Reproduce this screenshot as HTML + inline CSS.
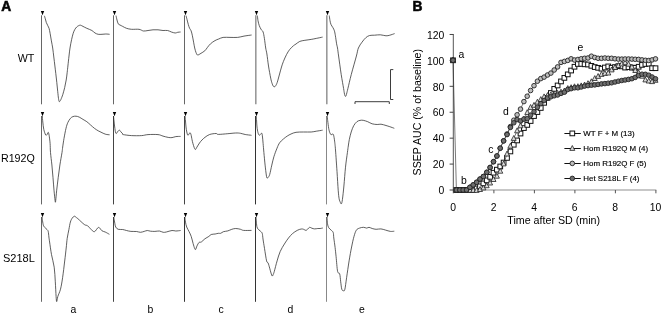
<!DOCTYPE html>
<html><head><meta charset="utf-8"><title>Figure</title>
<style>
html,body{margin:0;padding:0;background:#fff;}
svg{display:block;}
text{font-family:"Liberation Sans",Arial,Helvetica,sans-serif;fill:#000;}
.t{font-size:10.4px;}
.t2{font-size:10.7px;}
.l{font-size:7.95px;stroke:#000;stroke-width:0.15px;}
.b{font-size:13.8px;font-weight:bold;stroke:#111;stroke-width:0.6px;}
</style></head><body>
<svg width="664" height="316" viewBox="0 0 664 316">
<rect width="664" height="316" fill="#fff"/>
<text x="1.3" y="11" class="b">A</text>
<text x="412.6" y="11" class="b">B</text>
<text x="34.4" y="61.8" text-anchor="end" class="t2">WT</text>
<text x="34.8" y="161.9" text-anchor="end" class="t2">R192Q</text>
<text x="34.8" y="262" text-anchor="end" class="t2" style="font-size:11px">S218L</text>
<text x="73.3" y="312.5" text-anchor="middle" class="t">a</text>
<text x="150.5" y="312.5" text-anchor="middle" class="t">b</text>
<text x="221" y="312.5" text-anchor="middle" class="t">c</text>
<text x="290.3" y="312.5" text-anchor="middle" class="t">d</text>
<text x="362" y="312.5" text-anchor="middle" class="t">e</text>
<line x1="41.5" y1="15.3" x2="41.5" y2="104.3" stroke="#666" stroke-width="1"/>
<path d="M40.8,11 L44.2,11 L42.5,15.2 Z" fill="#000"/>
<line x1="113.5" y1="15.3" x2="113.5" y2="104.3" stroke="#666" stroke-width="1"/>
<path d="M112.8,11 L116.2,11 L114.5,15.2 Z" fill="#000"/>
<line x1="184.5" y1="15.3" x2="184.5" y2="104.3" stroke="#666" stroke-width="1"/>
<path d="M183.8,11 L187.2,11 L185.5,15.2 Z" fill="#000"/>
<line x1="255.8" y1="15.3" x2="255.8" y2="104.3" stroke="#999" stroke-width="1.6"/>
<path d="M254.8,11 L258.2,11 L256.5,15.2 Z" fill="#000"/>
<line x1="326.8" y1="15.3" x2="326.8" y2="104.3" stroke="#999" stroke-width="1.6"/>
<path d="M325.8,11 L329.2,11 L327.5,15.2 Z" fill="#000"/>
<line x1="41.5" y1="116" x2="41.5" y2="204.4" stroke="#666" stroke-width="1"/>
<path d="M40.8,112 L44.2,112 L42.5,116.2 Z" fill="#000"/>
<line x1="113.5" y1="116" x2="113.5" y2="204.4" stroke="#444" stroke-width="1"/>
<path d="M112.8,112 L116.2,112 L114.5,116.2 Z" fill="#000"/>
<line x1="184.5" y1="116" x2="184.5" y2="204.4" stroke="#444" stroke-width="1"/>
<path d="M183.8,112 L187.2,112 L185.5,116.2 Z" fill="#000"/>
<line x1="255.5" y1="116" x2="255.5" y2="204.4" stroke="#333" stroke-width="1"/>
<path d="M254.8,112 L258.2,112 L256.5,116.2 Z" fill="#000"/>
<line x1="326.5" y1="116" x2="326.5" y2="204.4" stroke="#888" stroke-width="1"/>
<path d="M325.8,112 L329.2,112 L327.5,116.2 Z" fill="#000"/>
<line x1="41.5" y1="217" x2="41.5" y2="301.8" stroke="#666" stroke-width="1"/>
<path d="M40.8,213 L44.2,213 L42.5,217.2 Z" fill="#000"/>
<line x1="113.5" y1="217" x2="113.5" y2="301.8" stroke="#444" stroke-width="1"/>
<path d="M112.8,213 L116.2,213 L114.5,217.2 Z" fill="#000"/>
<line x1="184.5" y1="217" x2="184.5" y2="301.8" stroke="#333" stroke-width="1"/>
<path d="M183.8,213 L187.2,213 L185.5,217.2 Z" fill="#000"/>
<line x1="255.5" y1="217" x2="255.5" y2="301.8" stroke="#333" stroke-width="1"/>
<path d="M254.8,213 L258.2,213 L256.5,217.2 Z" fill="#000"/>
<line x1="326.5" y1="217" x2="326.5" y2="301.8" stroke="#888" stroke-width="1"/>
<path d="M325.8,213 L329.2,213 L327.5,217.2 Z" fill="#000"/>
<path d="M44.40,15.80 C44.55,16.30 44.98,17.68 45.30,18.80 C45.62,19.92 45.88,21.35 46.30,22.50 C46.72,23.65 47.33,24.70 47.80,25.70 C48.27,26.70 48.72,27.23 49.10,28.50 C49.48,29.77 49.72,31.23 50.10,33.30 C50.48,35.37 50.97,38.45 51.40,40.90 C51.83,43.35 52.30,45.32 52.70,48.00 C53.10,50.68 53.43,54.00 53.80,57.00 C54.17,60.00 54.57,63.23 54.90,66.00 C55.23,68.77 55.48,70.85 55.80,73.60 C56.12,76.35 56.48,79.55 56.80,82.50 C57.12,85.45 57.42,88.63 57.70,91.30 C57.98,93.97 58.25,96.78 58.50,98.50 C58.75,100.22 58.95,101.18 59.20,101.60 C59.45,102.02 59.72,101.35 60.00,101.00 C60.28,100.65 60.43,100.58 60.90,99.50 C61.37,98.42 62.17,96.50 62.80,94.50 C63.43,92.50 64.13,89.92 64.70,87.50 C65.27,85.08 65.78,82.53 66.20,80.00 C66.62,77.47 66.92,74.63 67.20,72.30 C67.48,69.97 67.60,68.72 67.90,66.00 C68.20,63.28 68.65,59.00 69.00,56.00 C69.35,53.00 69.57,50.73 70.00,48.00 C70.43,45.27 71.07,42.05 71.60,39.60 C72.13,37.15 72.67,34.98 73.20,33.30 C73.73,31.62 74.22,30.55 74.80,29.50 C75.38,28.45 76.07,27.63 76.70,27.00 C77.33,26.37 77.97,26.00 78.60,25.70 C79.23,25.40 79.77,25.08 80.50,25.20 C81.23,25.32 81.95,25.88 83.00,26.40 C84.05,26.92 85.32,27.62 86.80,28.30 C88.28,28.98 90.53,29.72 91.90,30.50 C93.27,31.28 93.95,32.37 95.00,33.00 C96.05,33.63 97.03,34.08 98.20,34.30 C99.37,34.52 100.73,34.35 102.00,34.30 C103.27,34.25 104.53,34.00 105.80,34.00 C107.07,34.00 108.97,34.25 109.60,34.30" fill="none" stroke="#2a2a2a" stroke-width="0.75" stroke-linejoin="round"/>
<path d="M116.00,15.60 C116.17,16.33 116.63,18.63 117.00,20.00 C117.37,21.37 117.70,22.97 118.20,23.80 C118.70,24.63 119.25,24.57 120.00,25.00 C120.75,25.43 121.62,25.85 122.70,26.40 C123.78,26.95 125.03,27.82 126.50,28.30 C127.97,28.78 129.42,29.13 131.50,29.30 C133.58,29.47 137.00,29.02 139.00,29.30 C141.00,29.58 142.00,30.80 143.50,31.00 C145.00,31.20 146.42,30.70 148.00,30.50 C149.58,30.30 151.33,29.92 153.00,29.80 C154.67,29.68 156.33,29.68 158.00,29.80 C159.67,29.92 161.40,30.38 163.00,30.50 C164.60,30.62 166.20,30.25 167.60,30.50 C169.00,30.75 170.13,31.58 171.40,32.00 C172.67,32.42 174.15,32.95 175.20,33.00 C176.25,33.05 176.80,32.47 177.70,32.30 C178.60,32.13 180.12,32.05 180.60,32.00" fill="none" stroke="#2a2a2a" stroke-width="0.75" stroke-linejoin="round"/>
<path d="M186.00,15.60 C186.17,16.23 186.62,17.92 187.00,19.40 C187.38,20.88 187.87,23.02 188.30,24.50 C188.73,25.98 189.13,27.25 189.60,28.30 C190.07,29.35 190.63,29.55 191.10,30.80 C191.57,32.05 191.98,33.90 192.40,35.80 C192.82,37.70 193.22,40.17 193.60,42.20 C193.98,44.23 194.30,46.28 194.70,48.00 C195.10,49.72 195.55,51.33 196.00,52.50 C196.45,53.67 196.90,54.67 197.40,55.00 C197.90,55.33 198.40,54.78 199.00,54.50 C199.60,54.22 200.03,53.92 201.00,53.30 C201.97,52.68 203.75,51.75 204.80,50.80 C205.85,49.85 206.35,48.77 207.30,47.60 C208.25,46.43 209.22,44.97 210.50,43.80 C211.78,42.63 213.63,41.40 215.00,40.60 C216.37,39.80 217.35,39.53 218.70,39.00 C220.05,38.47 221.22,37.67 223.10,37.40 C224.98,37.13 227.57,37.40 230.00,37.40 C232.43,37.40 235.37,37.62 237.70,37.40 C240.03,37.18 241.68,36.50 244.00,36.10 C246.32,35.70 250.33,35.18 251.60,35.00" fill="none" stroke="#2a2a2a" stroke-width="0.75" stroke-linejoin="round"/>
<path d="M257.40,15.60 C257.50,16.45 257.68,19.02 258.00,20.70 C258.32,22.38 258.77,24.23 259.30,25.70 C259.83,27.17 260.57,28.45 261.20,29.50 C261.83,30.55 262.57,30.52 263.10,32.00 C263.63,33.48 263.97,35.73 264.40,38.40 C264.83,41.07 265.28,45.40 265.70,48.00 C266.12,50.60 266.43,51.00 266.90,54.00 C267.37,57.00 267.87,61.98 268.50,66.00 C269.13,70.02 270.12,75.23 270.70,78.10 C271.28,80.97 271.58,81.88 272.00,83.20 C272.42,84.52 272.82,85.40 273.20,86.00 C273.58,86.60 273.92,86.80 274.30,86.80 C274.68,86.80 275.02,86.72 275.50,86.00 C275.98,85.28 276.57,84.33 277.20,82.50 C277.83,80.67 278.58,77.58 279.30,75.00 C280.02,72.42 280.82,69.25 281.50,67.00 C282.18,64.75 282.57,63.57 283.40,61.50 C284.23,59.43 285.45,56.60 286.50,54.60 C287.55,52.60 288.53,50.98 289.70,49.50 C290.87,48.02 292.45,46.62 293.50,45.70 C294.55,44.78 294.95,44.72 296.00,44.00 C297.05,43.28 298.32,42.02 299.80,41.40 C301.28,40.78 303.00,40.63 304.90,40.30 C306.80,39.97 309.30,39.72 311.20,39.40 C313.10,39.08 314.40,38.78 316.30,38.40 C318.20,38.02 321.55,37.32 322.60,37.10" fill="none" stroke="#2a2a2a" stroke-width="0.75" stroke-linejoin="round"/>
<path d="M329.30,15.60 C329.42,16.45 329.72,19.22 330.00,20.70 C330.28,22.18 330.52,23.35 331.00,24.50 C331.48,25.65 332.33,26.55 332.90,27.60 C333.47,28.65 333.98,29.43 334.40,30.80 C334.82,32.17 335.03,33.63 335.40,35.80 C335.77,37.97 336.25,41.77 336.60,43.80 C336.95,45.83 337.17,45.97 337.50,48.00 C337.83,50.03 337.98,51.60 338.60,56.00 C339.22,60.40 340.37,68.98 341.20,74.40 C342.03,79.82 343.08,85.40 343.60,88.50 C344.12,91.60 344.08,91.82 344.30,93.00 C344.52,94.18 344.70,95.03 344.90,95.60 C345.10,96.17 345.30,96.40 345.50,96.40 C345.70,96.40 345.88,96.17 346.10,95.60 C346.32,95.03 346.50,94.18 346.80,93.00 C347.10,91.82 347.15,91.60 347.90,88.50 C348.65,85.40 349.88,79.82 351.30,74.40 C352.72,68.98 355.22,60.40 356.40,56.00 C357.58,51.60 357.47,50.30 358.40,48.00 C359.33,45.70 360.77,43.92 362.00,42.20 C363.23,40.48 364.53,38.82 365.80,37.70 C367.07,36.58 368.13,35.92 369.60,35.50 C371.07,35.08 372.82,35.32 374.60,35.20 C376.38,35.08 378.40,34.70 380.30,34.80 C382.20,34.90 384.42,35.73 386.00,35.80 C387.58,35.87 388.37,35.57 389.80,35.20 C391.23,34.83 393.80,33.87 394.60,33.60" fill="none" stroke="#2a2a2a" stroke-width="0.75" stroke-linejoin="round"/>
<path d="M42.30,116.00 C42.38,117.00 42.55,119.75 42.80,122.00 C43.05,124.25 43.32,127.33 43.80,129.50 C44.28,131.67 45.17,134.15 45.70,135.00 C46.23,135.85 46.58,135.05 47.00,134.60 C47.42,134.15 47.85,132.20 48.20,132.30 C48.55,132.40 48.78,133.35 49.10,135.20 C49.42,137.05 49.87,140.52 50.10,143.40 C50.33,146.28 50.20,148.90 50.50,152.50 C50.80,156.10 51.48,160.80 51.90,165.00 C52.32,169.20 52.65,173.50 53.00,177.70 C53.35,181.90 53.65,186.37 54.00,190.20 C54.35,194.03 54.87,198.72 55.10,200.70 C55.33,202.68 55.30,202.10 55.40,202.10 C55.50,202.10 55.48,202.68 55.70,200.70 C55.92,198.72 56.28,194.03 56.70,190.20 C57.12,186.37 57.67,181.90 58.20,177.70 C58.73,173.50 59.27,169.20 59.90,165.00 C60.53,160.80 61.53,155.50 62.00,152.50 C62.47,149.50 62.37,149.35 62.70,147.00 C63.03,144.65 63.45,141.52 64.00,138.40 C64.55,135.28 65.37,130.93 66.00,128.30 C66.63,125.67 67.07,124.25 67.80,122.60 C68.53,120.95 69.55,119.40 70.40,118.40 C71.25,117.40 71.97,116.97 72.90,116.60 C73.83,116.23 74.95,116.12 76.00,116.20 C77.05,116.28 78.03,116.57 79.20,117.10 C80.37,117.63 81.73,118.63 83.00,119.40 C84.27,120.17 85.53,120.77 86.80,121.70 C88.07,122.63 89.33,123.90 90.60,125.00 C91.87,126.10 93.13,127.33 94.40,128.30 C95.67,129.27 96.93,130.07 98.20,130.80 C99.47,131.53 100.73,132.12 102.00,132.70 C103.27,133.28 104.53,133.95 105.80,134.30 C107.07,134.65 108.97,134.72 109.60,134.80" fill="none" stroke="#2a2a2a" stroke-width="0.75" stroke-linejoin="round"/>
<path d="M113.50,116.00 C113.58,116.83 113.80,119.17 114.00,121.00 C114.20,122.83 114.43,125.05 114.70,127.00 C114.97,128.95 115.28,131.65 115.60,132.70 C115.92,133.75 116.23,133.52 116.60,133.30 C116.97,133.08 117.32,131.92 117.80,131.40 C118.28,130.88 118.97,130.10 119.50,130.20 C120.03,130.30 120.43,131.37 121.00,132.00 C121.57,132.63 122.52,133.57 122.90,134.00 C123.28,134.43 121.87,134.33 123.30,134.60 C124.73,134.87 128.45,135.43 131.50,135.60 C134.55,135.77 138.85,135.77 141.60,135.60 C144.35,135.43 145.27,134.77 148.00,134.60 C150.73,134.43 155.50,134.35 158.00,134.60 C160.50,134.85 161.30,135.63 163.00,136.10 C164.70,136.57 166.70,137.15 168.20,137.40 C169.70,137.65 170.73,137.73 172.00,137.60 C173.27,137.47 174.37,136.80 175.80,136.60 C177.23,136.40 179.80,136.43 180.60,136.40" fill="none" stroke="#2a2a2a" stroke-width="0.75" stroke-linejoin="round"/>
<path d="M185.00,116.00 C185.08,116.83 185.33,119.17 185.50,121.00 C185.67,122.83 185.78,125.17 186.00,127.00 C186.22,128.83 186.50,130.63 186.80,132.00 C187.10,133.37 187.42,134.87 187.80,135.20 C188.18,135.53 188.73,134.42 189.10,134.00 C189.47,133.58 189.68,132.60 190.00,132.70 C190.32,132.80 190.67,133.45 191.00,134.60 C191.33,135.75 191.68,138.13 192.00,139.60 C192.32,141.07 192.53,142.08 192.90,143.40 C193.27,144.72 193.78,146.48 194.20,147.50 C194.62,148.52 194.93,149.58 195.40,149.50 C195.87,149.42 196.32,148.08 197.00,147.00 C197.68,145.92 198.67,144.17 199.50,143.00 C200.33,141.83 201.08,140.95 202.00,140.00 C202.92,139.05 203.73,138.22 205.00,137.30 C206.27,136.38 207.77,135.13 209.60,134.50 C211.43,133.87 214.55,133.52 216.00,133.50 C217.45,133.48 216.33,134.37 218.30,134.40 C220.27,134.43 224.90,133.93 227.80,133.70 C230.70,133.47 233.58,133.07 235.70,133.00 C237.82,132.93 238.92,133.05 240.50,133.30 C242.08,133.55 243.37,134.17 245.20,134.50 C247.03,134.83 250.45,135.17 251.50,135.30" fill="none" stroke="#2a2a2a" stroke-width="0.75" stroke-linejoin="round"/>
<path d="M256.20,116.00 C256.27,116.83 256.47,119.17 256.60,121.00 C256.73,122.83 256.77,125.05 257.00,127.00 C257.23,128.95 257.62,131.33 258.00,132.70 C258.38,134.07 258.83,134.98 259.30,135.20 C259.77,135.42 260.37,134.32 260.80,134.00 C261.23,133.68 261.62,132.80 261.90,133.30 C262.18,133.80 262.30,135.32 262.50,137.00 C262.70,138.68 262.87,140.80 263.10,143.40 C263.33,146.00 263.57,148.98 263.90,152.60 C264.23,156.22 264.70,161.37 265.10,165.10 C265.50,168.83 265.98,172.83 266.30,175.00 C266.62,177.17 266.68,177.73 267.00,178.10 C267.32,178.47 267.75,177.80 268.20,177.20 C268.65,176.60 269.10,176.52 269.70,174.50 C270.30,172.48 271.10,168.07 271.80,165.10 C272.50,162.13 273.03,159.52 273.90,156.70 C274.77,153.88 276.05,150.52 277.00,148.20 C277.95,145.88 278.53,144.33 279.60,142.80 C280.67,141.27 282.13,140.12 283.40,139.00 C284.67,137.88 285.93,136.93 287.20,136.10 C288.47,135.27 289.53,134.63 291.00,134.00 C292.47,133.37 293.90,132.63 296.00,132.30 C298.10,131.97 301.07,132.05 303.60,132.00 C306.13,131.95 309.08,132.13 311.20,132.00 C313.32,131.87 314.40,131.50 316.30,131.20 C318.20,130.90 321.55,130.37 322.60,130.20" fill="none" stroke="#2a2a2a" stroke-width="0.75" stroke-linejoin="round"/>
<path d="M327.20,116.00 C327.28,116.78 327.45,118.65 327.70,120.70 C327.95,122.75 328.35,126.30 328.70,128.30 C329.05,130.30 329.38,131.62 329.80,132.70 C330.22,133.78 330.72,134.58 331.20,134.80 C331.68,135.02 332.30,133.93 332.70,134.00 C333.10,134.07 333.28,134.03 333.60,135.20 C333.92,136.37 334.28,138.53 334.60,141.00 C334.92,143.47 335.10,144.93 335.50,150.00 C335.90,155.07 336.55,164.70 337.00,171.40 C337.45,178.10 337.85,185.67 338.20,190.20 C338.55,194.73 338.75,196.58 339.10,198.60 C339.45,200.62 339.92,201.43 340.30,202.30 C340.68,203.17 341.05,204.25 341.40,203.80 C341.75,203.35 341.98,202.57 342.40,199.60 C342.82,196.63 343.38,191.40 343.90,186.00 C344.42,180.60 344.92,172.77 345.50,167.20 C346.08,161.63 346.93,156.13 347.40,152.60 C347.87,149.07 347.98,148.17 348.30,146.00 C348.62,143.83 348.82,141.93 349.30,139.60 C349.78,137.27 350.47,134.32 351.20,132.00 C351.93,129.68 352.75,127.42 353.70,125.70 C354.65,123.98 355.85,122.58 356.90,121.70 C357.95,120.82 358.95,120.63 360.00,120.40 C361.05,120.17 361.92,120.08 363.20,120.30 C364.48,120.52 366.22,121.12 367.70,121.70 C369.18,122.28 370.52,123.33 372.10,123.80 C373.68,124.27 375.72,124.43 377.20,124.50 C378.68,124.57 379.53,124.03 381.00,124.20 C382.47,124.37 384.53,125.08 386.00,125.50 C387.47,125.92 388.42,126.23 389.80,126.70 C391.18,127.17 393.55,128.03 394.30,128.30" fill="none" stroke="#2a2a2a" stroke-width="0.75" stroke-linejoin="round"/>
<path d="M42.20,217.00 C42.25,217.62 42.28,219.25 42.50,220.70 C42.72,222.15 43.08,224.55 43.50,225.70 C43.92,226.85 44.42,226.97 45.00,227.60 C45.58,228.23 46.47,228.87 47.00,229.50 C47.53,230.13 47.88,230.15 48.20,231.40 C48.52,232.65 48.67,235.23 48.90,237.00 C49.13,238.77 49.17,239.07 49.60,242.00 C50.03,244.93 50.73,250.40 51.50,254.60 C52.27,258.80 53.57,262.67 54.20,267.20 C54.83,271.73 54.98,276.92 55.30,281.80 C55.62,286.68 55.87,293.20 56.10,296.50 C56.33,299.80 56.42,301.60 56.70,301.60 C56.98,301.60 57.17,298.57 57.80,296.50 C58.43,294.43 59.70,292.33 60.50,289.20 C61.30,286.07 61.90,282.40 62.60,277.70 C63.30,273.00 64.10,265.95 64.70,261.00 C65.30,256.05 65.78,251.77 66.20,248.00 C66.62,244.23 66.75,241.48 67.20,238.40 C67.65,235.32 68.37,232.23 68.90,229.50 C69.43,226.77 69.83,223.92 70.40,222.00 C70.97,220.08 71.63,218.97 72.30,218.00 C72.97,217.03 73.78,216.32 74.40,216.20 C75.02,216.08 75.40,216.87 76.00,217.30 C76.60,217.73 76.62,217.60 78.00,218.80 C79.38,220.00 82.72,223.35 84.30,224.50 C85.88,225.65 86.45,224.97 87.50,225.70 C88.55,226.43 89.45,227.90 90.60,228.90 C91.75,229.90 93.08,231.95 94.40,231.70 C95.72,231.45 97.23,227.55 98.50,227.40 C99.77,227.25 100.88,230.03 102.00,230.80 C103.12,231.57 103.97,231.42 105.20,232.00 C106.43,232.58 108.70,233.92 109.40,234.30" fill="none" stroke="#2a2a2a" stroke-width="0.75" stroke-linejoin="round"/>
<path d="M113.80,217.00 C113.87,217.50 114.03,218.97 114.20,220.00 C114.37,221.03 114.55,222.03 114.80,223.20 C115.05,224.37 115.13,225.98 115.70,227.00 C116.27,228.02 117.03,228.88 118.20,229.30 C119.37,229.72 121.32,229.30 122.70,229.50 C124.08,229.70 125.13,230.18 126.50,230.50 C127.87,230.82 129.22,231.23 130.90,231.40 C132.58,231.57 135.02,231.35 136.60,231.50 C138.18,231.65 139.13,232.32 140.40,232.30 C141.67,232.28 143.05,231.70 144.20,231.40 C145.35,231.10 146.25,230.53 147.30,230.50 C148.35,230.47 149.23,231.05 150.50,231.20 C151.77,231.35 153.42,231.43 154.90,231.40 C156.38,231.37 158.02,230.85 159.40,231.00 C160.78,231.15 162.05,232.13 163.20,232.30 C164.35,232.47 164.83,232.30 166.30,232.00 C167.77,231.70 170.42,230.67 172.00,230.50 C173.58,230.33 174.37,231.00 175.80,231.00 C177.23,231.00 179.80,230.58 180.60,230.50" fill="none" stroke="#2a2a2a" stroke-width="0.75" stroke-linejoin="round"/>
<path d="M184.80,217.00 C184.92,217.87 185.18,220.53 185.50,222.20 C185.82,223.87 186.10,225.42 186.70,227.00 C187.30,228.58 188.35,230.13 189.10,231.70 C189.85,233.27 190.53,234.43 191.20,236.40 C191.87,238.37 192.53,241.52 193.10,243.50 C193.67,245.48 194.18,247.30 194.60,248.30 C195.02,249.30 195.20,249.90 195.60,249.50 C196.00,249.10 196.42,247.08 197.00,245.90 C197.58,244.72 198.38,243.05 199.10,242.40 C199.82,241.75 200.33,242.60 201.30,242.00 C202.27,241.40 203.63,239.73 204.90,238.80 C206.17,237.87 207.85,237.12 208.90,236.40 C209.95,235.68 210.15,234.90 211.20,234.50 C212.25,234.10 214.02,234.20 215.20,234.00 C216.38,233.80 217.38,233.42 218.30,233.30 C219.22,233.18 219.85,233.57 220.70,233.30 C221.55,233.03 222.22,232.10 223.40,231.70 C224.58,231.30 226.40,231.30 227.80,230.90 C229.20,230.50 230.48,229.70 231.80,229.30 C233.12,228.90 234.25,228.50 235.70,228.50 C237.15,228.50 239.18,228.98 240.50,229.30 C241.82,229.62 241.77,230.22 243.60,230.40 C245.43,230.58 250.18,230.40 251.50,230.40" fill="none" stroke="#2a2a2a" stroke-width="0.75" stroke-linejoin="round"/>
<path d="M256.00,217.00 C256.08,218.13 256.27,221.93 256.50,223.80 C256.73,225.67 256.80,227.02 257.40,228.20 C258.00,229.38 259.30,230.05 260.10,230.90 C260.90,231.75 261.72,231.95 262.20,233.30 C262.68,234.65 262.62,236.48 263.00,239.00 C263.38,241.52 263.90,244.75 264.50,248.40 C265.10,252.05 266.00,258.47 266.60,260.90 C267.20,263.33 267.58,261.78 268.10,263.00 C268.62,264.22 269.22,266.53 269.70,268.20 C270.18,269.87 270.58,271.70 271.00,273.00 C271.42,274.30 271.83,275.75 272.20,276.00 C272.57,276.25 272.85,275.27 273.20,274.50 C273.55,273.73 273.65,273.67 274.30,271.40 C274.95,269.13 276.12,264.22 277.10,260.90 C278.08,257.58 278.98,254.32 280.20,251.50 C281.42,248.68 283.02,246.25 284.40,244.00 C285.78,241.75 287.15,239.73 288.50,238.00 C289.85,236.27 291.05,234.87 292.50,233.60 C293.95,232.33 295.75,231.17 297.20,230.40 C298.65,229.63 300.13,229.18 301.20,229.00 C302.27,228.82 302.82,229.07 303.60,229.30 C304.38,229.53 305.25,230.40 305.90,230.40 C306.55,230.40 306.88,229.82 307.50,229.30 C308.12,228.78 308.88,227.48 309.60,227.30 C310.32,227.12 310.97,227.93 311.80,228.20 C312.63,228.47 313.60,228.85 314.60,228.90 C315.60,228.95 316.88,228.57 317.80,228.50 C318.72,228.43 319.27,228.58 320.10,228.50 C320.93,228.42 322.35,228.08 322.80,228.00" fill="none" stroke="#2a2a2a" stroke-width="0.75" stroke-linejoin="round"/>
<path d="M327.00,217.00 C327.08,218.13 327.22,222.02 327.50,223.80 C327.78,225.58 328.10,226.65 328.70,227.70 C329.30,228.75 330.35,229.30 331.10,230.10 C331.85,230.90 332.75,231.18 333.20,232.50 C333.65,233.82 333.48,235.50 333.80,238.00 C334.12,240.50 334.72,244.38 335.10,247.50 C335.48,250.62 335.68,252.72 336.10,256.70 C336.52,260.68 337.00,268.53 337.60,271.40 C338.20,274.27 339.18,272.17 339.70,273.90 C340.22,275.63 340.35,279.25 340.70,281.80 C341.05,284.35 341.33,287.70 341.80,289.20 C342.27,290.70 342.98,290.80 343.50,290.80 C344.02,290.80 344.38,291.38 344.90,289.20 C345.42,287.02 345.90,282.42 346.60,277.70 C347.30,272.98 348.27,266.02 349.10,260.90 C349.93,255.78 350.78,251.08 351.60,247.00 C352.42,242.92 353.20,239.22 354.00,236.40 C354.80,233.58 355.48,231.48 356.40,230.10 C357.32,228.72 358.32,228.57 359.50,228.10 C360.68,227.63 362.30,227.30 363.50,227.30 C364.70,227.30 365.78,228.10 366.70,228.10 C367.62,228.10 368.08,227.23 369.00,227.30 C369.92,227.37 371.02,228.17 372.20,228.50 C373.38,228.83 374.65,229.23 376.10,229.30 C377.55,229.37 379.32,228.77 380.90,228.90 C382.48,229.03 384.02,229.68 385.60,230.10 C387.18,230.52 388.95,231.22 390.40,231.40 C391.85,231.58 393.65,231.23 394.30,231.20" fill="none" stroke="#2a2a2a" stroke-width="0.75" stroke-linejoin="round"/>
<path d="M393.3,69.6 L390.5,69.6 L390.5,99.5 L393.3,99.5" fill="none" stroke="#333" stroke-width="0.95"/>
<path d="M355,104 L355,101.7 L389.3,101.7 L389.3,104" fill="none" stroke="#333" stroke-width="0.95"/>
<line x1="453.29999999999995" y1="34" x2="453.29999999999995" y2="193.3" stroke="#555" stroke-width="1"/>
<line x1="453.4" y1="190" x2="656.3" y2="190" stroke="#909090" stroke-width="1.1"/>
<line x1="449.6" y1="190.0" x2="453.4" y2="190.0" stroke="#444" stroke-width="1"/>
<text x="444.4" y="194.2" text-anchor="end" class="t">0</text>
<line x1="449.6" y1="164.07999999999998" x2="453.4" y2="164.07999999999998" stroke="#444" stroke-width="1"/>
<text x="444.4" y="168.3" text-anchor="end" class="t">20</text>
<line x1="449.6" y1="138.16" x2="453.4" y2="138.16" stroke="#444" stroke-width="1"/>
<text x="444.4" y="142.4" text-anchor="end" class="t">40</text>
<line x1="449.6" y1="112.24" x2="453.4" y2="112.24" stroke="#444" stroke-width="1"/>
<text x="444.4" y="116.4" text-anchor="end" class="t">60</text>
<line x1="449.6" y1="86.32" x2="453.4" y2="86.32" stroke="#444" stroke-width="1"/>
<text x="444.4" y="90.5" text-anchor="end" class="t">80</text>
<line x1="449.6" y1="60.400000000000006" x2="453.4" y2="60.400000000000006" stroke="#444" stroke-width="1"/>
<text x="444.4" y="64.6" text-anchor="end" class="t">100</text>
<line x1="449.6" y1="34.47999999999999" x2="453.4" y2="34.47999999999999" stroke="#444" stroke-width="1"/>
<text x="444.4" y="38.7" text-anchor="end" class="t">120</text>
<text x="453.09999999999997" y="210.7" text-anchor="middle" class="t">0</text>
<line x1="493.9" y1="190" x2="493.9" y2="193.3" stroke="#555" stroke-width="1"/>
<text x="493.59999999999997" y="210.7" text-anchor="middle" class="t">2</text>
<line x1="534.4" y1="190" x2="534.4" y2="193.3" stroke="#555" stroke-width="1"/>
<text x="534.1" y="210.7" text-anchor="middle" class="t">4</text>
<line x1="574.9" y1="190" x2="574.9" y2="193.3" stroke="#555" stroke-width="1"/>
<text x="574.6" y="210.7" text-anchor="middle" class="t">6</text>
<line x1="615.4" y1="190" x2="615.4" y2="193.3" stroke="#555" stroke-width="1"/>
<text x="615.1" y="210.7" text-anchor="middle" class="t">8</text>
<line x1="655.9" y1="190" x2="655.9" y2="193.3" stroke="#555" stroke-width="1"/>
<text x="655.6" y="210.7" text-anchor="middle" class="t">10</text>
<path d="M456.4,190.0 L459.8,190.0 L463.1,190.0 L466.5,190.0 L469.9,190.0 L473.2,189.9 L476.6,188.5 L480.0,186.3 L483.4,183.4 L486.8,180.3 L490.1,176.8 L493.5,172.7 L496.9,169.7 L500.2,166.5 L503.6,162.6 L507.0,157.9 L510.4,151.4 L513.8,144.7 L517.1,140.4 L520.5,133.5 L523.9,128.1 L527.2,124.9 L530.6,121.0 L534.0,116.1 L537.4,112.1 L540.8,108.0 L544.1,102.8 L547.5,97.9 L550.9,93.0 L554.2,88.9 L557.6,85.5 L561.0,81.4 L564.4,77.9 L567.8,74.4 L571.1,70.5 L574.5,66.8 L577.9,64.0 L581.2,63.9 L584.6,64.3 L588.0,64.5 L591.4,65.8 L594.8,67.1 L598.1,67.8 L601.5,68.7 L604.9,67.5 L608.2,66.4 L611.6,67.7 L615.0,67.1 L618.4,66.1 L621.8,66.4 L625.1,67.6 L628.5,67.1 L631.9,67.7 L635.2,67.8 L638.6,66.8 L642.0,64.9 L645.4,64.0 L648.8,63.7 L652.1,68.2 L655.5,68.2" fill="none" stroke="#222" stroke-width="0.6"/>
<rect x="450.65" y="57.95" width="4.7" height="4.7" fill="#fff" stroke="#111" stroke-width="1"/>
<rect x="454.02" y="187.65" width="4.7" height="4.7" fill="#fff" stroke="#111" stroke-width="1"/>
<rect x="457.40" y="187.65" width="4.7" height="4.7" fill="#fff" stroke="#111" stroke-width="1"/>
<rect x="460.77" y="187.65" width="4.7" height="4.7" fill="#fff" stroke="#111" stroke-width="1"/>
<rect x="464.15" y="187.65" width="4.7" height="4.7" fill="#fff" stroke="#111" stroke-width="1"/>
<rect x="467.52" y="187.65" width="4.7" height="4.7" fill="#fff" stroke="#111" stroke-width="1"/>
<rect x="470.90" y="187.55" width="4.7" height="4.7" fill="#fff" stroke="#111" stroke-width="1"/>
<rect x="474.27" y="186.13" width="4.7" height="4.7" fill="#fff" stroke="#111" stroke-width="1"/>
<rect x="477.65" y="183.99" width="4.7" height="4.7" fill="#fff" stroke="#111" stroke-width="1"/>
<rect x="481.02" y="181.08" width="4.7" height="4.7" fill="#fff" stroke="#111" stroke-width="1"/>
<rect x="484.40" y="178.00" width="4.7" height="4.7" fill="#fff" stroke="#111" stroke-width="1"/>
<rect x="487.77" y="174.49" width="4.7" height="4.7" fill="#fff" stroke="#111" stroke-width="1"/>
<rect x="491.15" y="170.38" width="4.7" height="4.7" fill="#fff" stroke="#111" stroke-width="1"/>
<rect x="494.52" y="167.31" width="4.7" height="4.7" fill="#fff" stroke="#111" stroke-width="1"/>
<rect x="497.90" y="164.14" width="4.7" height="4.7" fill="#fff" stroke="#111" stroke-width="1"/>
<rect x="501.27" y="160.21" width="4.7" height="4.7" fill="#fff" stroke="#111" stroke-width="1"/>
<rect x="504.65" y="155.57" width="4.7" height="4.7" fill="#fff" stroke="#111" stroke-width="1"/>
<rect x="508.02" y="149.09" width="4.7" height="4.7" fill="#fff" stroke="#111" stroke-width="1"/>
<rect x="511.40" y="142.37" width="4.7" height="4.7" fill="#fff" stroke="#111" stroke-width="1"/>
<rect x="514.77" y="138.09" width="4.7" height="4.7" fill="#fff" stroke="#111" stroke-width="1"/>
<rect x="518.15" y="131.18" width="4.7" height="4.7" fill="#fff" stroke="#111" stroke-width="1"/>
<rect x="521.52" y="125.72" width="4.7" height="4.7" fill="#fff" stroke="#111" stroke-width="1"/>
<rect x="524.90" y="122.56" width="4.7" height="4.7" fill="#fff" stroke="#111" stroke-width="1"/>
<rect x="528.27" y="118.67" width="4.7" height="4.7" fill="#fff" stroke="#111" stroke-width="1"/>
<rect x="531.65" y="113.71" width="4.7" height="4.7" fill="#fff" stroke="#111" stroke-width="1"/>
<rect x="535.02" y="109.71" width="4.7" height="4.7" fill="#fff" stroke="#111" stroke-width="1"/>
<rect x="538.40" y="105.62" width="4.7" height="4.7" fill="#fff" stroke="#111" stroke-width="1"/>
<rect x="541.77" y="100.47" width="4.7" height="4.7" fill="#fff" stroke="#111" stroke-width="1"/>
<rect x="545.15" y="95.51" width="4.7" height="4.7" fill="#fff" stroke="#111" stroke-width="1"/>
<rect x="548.52" y="90.63" width="4.7" height="4.7" fill="#fff" stroke="#111" stroke-width="1"/>
<rect x="551.90" y="86.51" width="4.7" height="4.7" fill="#fff" stroke="#111" stroke-width="1"/>
<rect x="555.27" y="83.12" width="4.7" height="4.7" fill="#fff" stroke="#111" stroke-width="1"/>
<rect x="558.65" y="79.08" width="4.7" height="4.7" fill="#fff" stroke="#111" stroke-width="1"/>
<rect x="562.02" y="75.53" width="4.7" height="4.7" fill="#fff" stroke="#111" stroke-width="1"/>
<rect x="565.40" y="72.02" width="4.7" height="4.7" fill="#fff" stroke="#111" stroke-width="1"/>
<rect x="568.77" y="68.18" width="4.7" height="4.7" fill="#fff" stroke="#111" stroke-width="1"/>
<rect x="572.15" y="64.40" width="4.7" height="4.7" fill="#fff" stroke="#111" stroke-width="1"/>
<rect x="575.52" y="61.61" width="4.7" height="4.7" fill="#fff" stroke="#111" stroke-width="1"/>
<rect x="578.90" y="61.54" width="4.7" height="4.7" fill="#fff" stroke="#111" stroke-width="1"/>
<rect x="582.27" y="61.95" width="4.7" height="4.7" fill="#fff" stroke="#111" stroke-width="1"/>
<rect x="585.65" y="62.15" width="4.7" height="4.7" fill="#fff" stroke="#111" stroke-width="1"/>
<rect x="589.02" y="63.49" width="4.7" height="4.7" fill="#fff" stroke="#111" stroke-width="1"/>
<rect x="592.40" y="64.73" width="4.7" height="4.7" fill="#fff" stroke="#111" stroke-width="1"/>
<rect x="595.77" y="65.48" width="4.7" height="4.7" fill="#fff" stroke="#111" stroke-width="1"/>
<rect x="599.15" y="66.32" width="4.7" height="4.7" fill="#fff" stroke="#111" stroke-width="1"/>
<rect x="602.52" y="65.16" width="4.7" height="4.7" fill="#fff" stroke="#111" stroke-width="1"/>
<rect x="605.90" y="64.07" width="4.7" height="4.7" fill="#fff" stroke="#111" stroke-width="1"/>
<rect x="609.27" y="65.38" width="4.7" height="4.7" fill="#fff" stroke="#111" stroke-width="1"/>
<rect x="612.65" y="64.72" width="4.7" height="4.7" fill="#fff" stroke="#111" stroke-width="1"/>
<rect x="616.02" y="63.77" width="4.7" height="4.7" fill="#fff" stroke="#111" stroke-width="1"/>
<rect x="619.40" y="64.02" width="4.7" height="4.7" fill="#fff" stroke="#111" stroke-width="1"/>
<rect x="622.77" y="65.23" width="4.7" height="4.7" fill="#fff" stroke="#111" stroke-width="1"/>
<rect x="626.15" y="64.77" width="4.7" height="4.7" fill="#fff" stroke="#111" stroke-width="1"/>
<rect x="629.52" y="65.31" width="4.7" height="4.7" fill="#fff" stroke="#111" stroke-width="1"/>
<rect x="632.90" y="65.45" width="4.7" height="4.7" fill="#fff" stroke="#111" stroke-width="1"/>
<rect x="636.27" y="64.40" width="4.7" height="4.7" fill="#fff" stroke="#111" stroke-width="1"/>
<rect x="639.65" y="62.55" width="4.7" height="4.7" fill="#fff" stroke="#111" stroke-width="1"/>
<rect x="643.02" y="61.65" width="4.7" height="4.7" fill="#fff" stroke="#111" stroke-width="1"/>
<rect x="646.40" y="61.35" width="4.7" height="4.7" fill="#fff" stroke="#111" stroke-width="1"/>
<rect x="649.77" y="65.85" width="4.7" height="4.7" fill="#fff" stroke="#111" stroke-width="1"/>
<rect x="653.15" y="65.85" width="4.7" height="4.7" fill="#fff" stroke="#111" stroke-width="1"/>
<path d="M456.4,190.0 L459.8,190.1 L463.1,190.1 L466.5,190.2 L469.9,190.3 L473.2,190.3 L476.6,190.4 L480.0,189.5 L483.4,187.9 L486.8,185.7 L490.1,183.0 L493.5,179.5 L496.9,176.2 L500.2,171.2 L503.6,163.9 L507.0,154.0 L510.4,146.1 L513.8,138.4 L517.1,130.8 L520.5,125.8 L523.9,119.2 L527.2,112.6 L530.6,107.4 L534.0,105.3 L537.4,102.1 L540.8,99.5 L544.1,96.8 L547.5,95.5 L550.9,94.8 L554.2,94.0 L557.6,93.3 L561.0,92.1 L564.4,90.9 L567.8,88.5 L571.1,87.6 L574.5,86.7 L577.9,86.6 L581.2,85.8 L584.6,84.9 L588.0,83.6 L591.4,81.7 L594.8,78.5 L598.1,76.4 L601.5,74.4 L604.9,73.4 L608.2,73.0 L611.6,69.9 L615.0,67.4 L618.4,65.5 L621.8,63.9 L625.1,62.7 L628.5,64.2 L631.9,67.0 L635.2,70.5 L638.6,72.8 L642.0,76.2 L645.4,79.9 L648.8,81.0 L652.1,81.6 L655.5,80.3" fill="none" stroke="#222" stroke-width="0.6"/>
<path d="M453.0,57.4 L455.5,62.3 L450.5,62.3 Z" fill="#ddd" stroke="#222" stroke-width="0.8"/>
<path d="M456.4,187.1 L458.9,192.0 L453.9,192.0 Z" fill="#ddd" stroke="#222" stroke-width="0.8"/>
<path d="M459.8,187.2 L462.2,192.1 L457.2,192.1 Z" fill="#ddd" stroke="#222" stroke-width="0.8"/>
<path d="M463.1,187.2 L465.6,192.1 L460.6,192.1 Z" fill="#ddd" stroke="#222" stroke-width="0.8"/>
<path d="M466.5,187.3 L469.0,192.2 L464.0,192.2 Z" fill="#ddd" stroke="#222" stroke-width="0.8"/>
<path d="M469.9,187.4 L472.4,192.3 L467.4,192.3 Z" fill="#ddd" stroke="#222" stroke-width="0.8"/>
<path d="M473.2,187.4 L475.8,192.3 L470.8,192.3 Z" fill="#ddd" stroke="#222" stroke-width="0.8"/>
<path d="M476.6,187.5 L479.1,192.4 L474.1,192.4 Z" fill="#ddd" stroke="#222" stroke-width="0.8"/>
<path d="M480.0,186.6 L482.5,191.5 L477.5,191.5 Z" fill="#ddd" stroke="#222" stroke-width="0.8"/>
<path d="M483.4,185.0 L485.9,189.9 L480.9,189.9 Z" fill="#ddd" stroke="#222" stroke-width="0.8"/>
<path d="M486.8,182.8 L489.2,187.7 L484.2,187.7 Z" fill="#ddd" stroke="#222" stroke-width="0.8"/>
<path d="M490.1,180.1 L492.6,185.0 L487.6,185.0 Z" fill="#ddd" stroke="#222" stroke-width="0.8"/>
<path d="M493.5,176.6 L496.0,181.5 L491.0,181.5 Z" fill="#ddd" stroke="#222" stroke-width="0.8"/>
<path d="M496.9,173.3 L499.4,178.2 L494.4,178.2 Z" fill="#ddd" stroke="#222" stroke-width="0.8"/>
<path d="M500.2,168.3 L502.8,173.2 L497.8,173.2 Z" fill="#ddd" stroke="#222" stroke-width="0.8"/>
<path d="M503.6,161.0 L506.1,165.9 L501.1,165.9 Z" fill="#ddd" stroke="#222" stroke-width="0.8"/>
<path d="M507.0,151.1 L509.5,156.0 L504.5,156.0 Z" fill="#ddd" stroke="#222" stroke-width="0.8"/>
<path d="M510.4,143.2 L512.9,148.1 L507.9,148.1 Z" fill="#ddd" stroke="#222" stroke-width="0.8"/>
<path d="M513.8,135.5 L516.2,140.4 L511.2,140.4 Z" fill="#ddd" stroke="#222" stroke-width="0.8"/>
<path d="M517.1,127.9 L519.6,132.8 L514.6,132.8 Z" fill="#ddd" stroke="#222" stroke-width="0.8"/>
<path d="M520.5,122.9 L523.0,127.8 L518.0,127.8 Z" fill="#ddd" stroke="#222" stroke-width="0.8"/>
<path d="M523.9,116.3 L526.4,121.2 L521.4,121.2 Z" fill="#ddd" stroke="#222" stroke-width="0.8"/>
<path d="M527.2,109.7 L529.8,114.6 L524.8,114.6 Z" fill="#ddd" stroke="#222" stroke-width="0.8"/>
<path d="M530.6,104.5 L533.1,109.4 L528.1,109.4 Z" fill="#ddd" stroke="#222" stroke-width="0.8"/>
<path d="M534.0,102.4 L536.5,107.3 L531.5,107.3 Z" fill="#ddd" stroke="#222" stroke-width="0.8"/>
<path d="M537.4,99.2 L539.9,104.1 L534.9,104.1 Z" fill="#ddd" stroke="#222" stroke-width="0.8"/>
<path d="M540.8,96.6 L543.2,101.5 L538.2,101.5 Z" fill="#ddd" stroke="#222" stroke-width="0.8"/>
<path d="M544.1,93.9 L546.6,98.8 L541.6,98.8 Z" fill="#ddd" stroke="#222" stroke-width="0.8"/>
<path d="M547.5,92.6 L550.0,97.5 L545.0,97.5 Z" fill="#ddd" stroke="#222" stroke-width="0.8"/>
<path d="M550.9,91.9 L553.4,96.8 L548.4,96.8 Z" fill="#ddd" stroke="#222" stroke-width="0.8"/>
<path d="M554.2,91.1 L556.8,96.0 L551.8,96.0 Z" fill="#ddd" stroke="#222" stroke-width="0.8"/>
<path d="M557.6,90.4 L560.1,95.3 L555.1,95.3 Z" fill="#ddd" stroke="#222" stroke-width="0.8"/>
<path d="M561.0,89.2 L563.5,94.1 L558.5,94.1 Z" fill="#ddd" stroke="#222" stroke-width="0.8"/>
<path d="M564.4,88.0 L566.9,92.9 L561.9,92.9 Z" fill="#ddd" stroke="#222" stroke-width="0.8"/>
<path d="M567.8,85.6 L570.2,90.5 L565.2,90.5 Z" fill="#ddd" stroke="#222" stroke-width="0.8"/>
<path d="M571.1,84.7 L573.6,89.6 L568.6,89.6 Z" fill="#ddd" stroke="#222" stroke-width="0.8"/>
<path d="M574.5,83.8 L577.0,88.7 L572.0,88.7 Z" fill="#ddd" stroke="#222" stroke-width="0.8"/>
<path d="M577.9,83.7 L580.4,88.6 L575.4,88.6 Z" fill="#ddd" stroke="#222" stroke-width="0.8"/>
<path d="M581.2,82.9 L583.8,87.8 L578.8,87.8 Z" fill="#ddd" stroke="#222" stroke-width="0.8"/>
<path d="M584.6,82.0 L587.1,86.9 L582.1,86.9 Z" fill="#ddd" stroke="#222" stroke-width="0.8"/>
<path d="M588.0,80.7 L590.5,85.6 L585.5,85.6 Z" fill="#ddd" stroke="#222" stroke-width="0.8"/>
<path d="M591.4,78.8 L593.9,83.7 L588.9,83.7 Z" fill="#ddd" stroke="#222" stroke-width="0.8"/>
<path d="M594.8,75.6 L597.2,80.5 L592.2,80.5 Z" fill="#ddd" stroke="#222" stroke-width="0.8"/>
<path d="M598.1,73.5 L600.6,78.4 L595.6,78.4 Z" fill="#ddd" stroke="#222" stroke-width="0.8"/>
<path d="M601.5,71.5 L604.0,76.4 L599.0,76.4 Z" fill="#ddd" stroke="#222" stroke-width="0.8"/>
<path d="M604.9,70.5 L607.4,75.4 L602.4,75.4 Z" fill="#ddd" stroke="#222" stroke-width="0.8"/>
<path d="M608.2,70.1 L610.8,75.0 L605.8,75.0 Z" fill="#ddd" stroke="#222" stroke-width="0.8"/>
<path d="M611.6,67.0 L614.1,71.9 L609.1,71.9 Z" fill="#ddd" stroke="#222" stroke-width="0.8"/>
<path d="M615.0,64.5 L617.5,69.4 L612.5,69.4 Z" fill="#ddd" stroke="#222" stroke-width="0.8"/>
<path d="M618.4,62.6 L620.9,67.5 L615.9,67.5 Z" fill="#ddd" stroke="#222" stroke-width="0.8"/>
<path d="M621.8,61.0 L624.2,65.9 L619.2,65.9 Z" fill="#ddd" stroke="#222" stroke-width="0.8"/>
<path d="M625.1,59.8 L627.6,64.7 L622.6,64.7 Z" fill="#ddd" stroke="#222" stroke-width="0.8"/>
<path d="M628.5,61.3 L631.0,66.2 L626.0,66.2 Z" fill="#ddd" stroke="#222" stroke-width="0.8"/>
<path d="M631.9,64.1 L634.4,69.0 L629.4,69.0 Z" fill="#ddd" stroke="#222" stroke-width="0.8"/>
<path d="M635.2,67.6 L637.8,72.5 L632.8,72.5 Z" fill="#ddd" stroke="#222" stroke-width="0.8"/>
<path d="M638.6,69.9 L641.1,74.8 L636.1,74.8 Z" fill="#ddd" stroke="#222" stroke-width="0.8"/>
<path d="M642.0,73.3 L644.5,78.2 L639.5,78.2 Z" fill="#ddd" stroke="#222" stroke-width="0.8"/>
<path d="M645.4,77.0 L647.9,81.9 L642.9,81.9 Z" fill="#ddd" stroke="#222" stroke-width="0.8"/>
<path d="M648.8,78.1 L651.2,83.0 L646.2,83.0 Z" fill="#ddd" stroke="#222" stroke-width="0.8"/>
<path d="M652.1,78.7 L654.6,83.6 L649.6,83.6 Z" fill="#ddd" stroke="#222" stroke-width="0.8"/>
<path d="M655.5,77.4 L658.0,82.3 L653.0,82.3 Z" fill="#ddd" stroke="#222" stroke-width="0.8"/>
<path d="M456.4,190.0 L459.8,190.0 L463.1,190.0 L466.5,190.0 L469.9,187.3 L473.2,184.9 L476.6,182.3 L480.0,179.1 L483.4,176.5 L486.8,172.3 L490.1,167.5 L493.5,161.7 L496.9,156.0 L500.2,148.2 L503.6,140.8 L507.0,134.0 L510.4,126.6 L513.8,120.2 L517.1,114.8 L520.5,109.1 L523.9,101.6 L527.2,96.2 L530.6,90.5 L534.0,85.7 L537.4,81.2 L540.8,78.6 L544.1,77.1 L547.5,75.0 L550.9,73.1 L554.2,70.0 L557.6,66.9 L561.0,62.4 L564.4,61.4 L567.8,60.4 L571.1,58.8 L574.5,60.0 L577.9,59.5 L581.2,58.8 L584.6,58.3 L588.0,58.0 L591.4,56.2 L594.8,57.5 L598.1,58.3 L601.5,58.3 L604.9,58.0 L608.2,58.3 L611.6,58.3 L615.0,58.8 L618.4,59.1 L621.8,59.1 L625.1,59.0 L628.5,59.0 L631.9,59.1 L635.2,59.3 L638.6,59.4 L642.0,59.9 L645.4,60.3 L648.8,60.5 L652.1,59.9 L655.5,58.9" fill="none" stroke="#222" stroke-width="0.6"/>
<circle cx="453.0" cy="60.3" r="2.3" fill="#bdbdbd" stroke="#222" stroke-width="0.9"/>
<circle cx="456.4" cy="190.0" r="2.3" fill="#bdbdbd" stroke="#222" stroke-width="0.9"/>
<circle cx="459.8" cy="190.0" r="2.3" fill="#bdbdbd" stroke="#222" stroke-width="0.9"/>
<circle cx="463.1" cy="190.0" r="2.3" fill="#bdbdbd" stroke="#222" stroke-width="0.9"/>
<circle cx="466.5" cy="190.0" r="2.3" fill="#bdbdbd" stroke="#222" stroke-width="0.9"/>
<circle cx="469.9" cy="187.3" r="2.3" fill="#bdbdbd" stroke="#222" stroke-width="0.9"/>
<circle cx="473.2" cy="184.9" r="2.3" fill="#bdbdbd" stroke="#222" stroke-width="0.9"/>
<circle cx="476.6" cy="182.3" r="2.3" fill="#bdbdbd" stroke="#222" stroke-width="0.9"/>
<circle cx="480.0" cy="179.1" r="2.3" fill="#bdbdbd" stroke="#222" stroke-width="0.9"/>
<circle cx="483.4" cy="176.5" r="2.3" fill="#bdbdbd" stroke="#222" stroke-width="0.9"/>
<circle cx="486.8" cy="172.3" r="2.3" fill="#bdbdbd" stroke="#222" stroke-width="0.9"/>
<circle cx="490.1" cy="167.5" r="2.3" fill="#bdbdbd" stroke="#222" stroke-width="0.9"/>
<circle cx="493.5" cy="161.7" r="2.3" fill="#bdbdbd" stroke="#222" stroke-width="0.9"/>
<circle cx="496.9" cy="156.0" r="2.3" fill="#bdbdbd" stroke="#222" stroke-width="0.9"/>
<circle cx="500.2" cy="148.2" r="2.3" fill="#bdbdbd" stroke="#222" stroke-width="0.9"/>
<circle cx="503.6" cy="140.8" r="2.3" fill="#bdbdbd" stroke="#222" stroke-width="0.9"/>
<circle cx="507.0" cy="134.0" r="2.3" fill="#bdbdbd" stroke="#222" stroke-width="0.9"/>
<circle cx="510.4" cy="126.6" r="2.3" fill="#bdbdbd" stroke="#222" stroke-width="0.9"/>
<circle cx="513.8" cy="120.2" r="2.3" fill="#bdbdbd" stroke="#222" stroke-width="0.9"/>
<circle cx="517.1" cy="114.8" r="2.3" fill="#bdbdbd" stroke="#222" stroke-width="0.9"/>
<circle cx="520.5" cy="109.1" r="2.3" fill="#bdbdbd" stroke="#222" stroke-width="0.9"/>
<circle cx="523.9" cy="101.6" r="2.3" fill="#bdbdbd" stroke="#222" stroke-width="0.9"/>
<circle cx="527.2" cy="96.2" r="2.3" fill="#bdbdbd" stroke="#222" stroke-width="0.9"/>
<circle cx="530.6" cy="90.5" r="2.3" fill="#bdbdbd" stroke="#222" stroke-width="0.9"/>
<circle cx="534.0" cy="85.7" r="2.3" fill="#bdbdbd" stroke="#222" stroke-width="0.9"/>
<circle cx="537.4" cy="81.2" r="2.3" fill="#bdbdbd" stroke="#222" stroke-width="0.9"/>
<circle cx="540.8" cy="78.6" r="2.3" fill="#bdbdbd" stroke="#222" stroke-width="0.9"/>
<circle cx="544.1" cy="77.1" r="2.3" fill="#bdbdbd" stroke="#222" stroke-width="0.9"/>
<circle cx="547.5" cy="75.0" r="2.3" fill="#bdbdbd" stroke="#222" stroke-width="0.9"/>
<circle cx="550.9" cy="73.1" r="2.3" fill="#bdbdbd" stroke="#222" stroke-width="0.9"/>
<circle cx="554.2" cy="70.0" r="2.3" fill="#bdbdbd" stroke="#222" stroke-width="0.9"/>
<circle cx="557.6" cy="66.9" r="2.3" fill="#bdbdbd" stroke="#222" stroke-width="0.9"/>
<circle cx="561.0" cy="62.4" r="2.3" fill="#bdbdbd" stroke="#222" stroke-width="0.9"/>
<circle cx="564.4" cy="61.4" r="2.3" fill="#bdbdbd" stroke="#222" stroke-width="0.9"/>
<circle cx="567.8" cy="60.4" r="2.3" fill="#bdbdbd" stroke="#222" stroke-width="0.9"/>
<circle cx="571.1" cy="58.8" r="2.3" fill="#bdbdbd" stroke="#222" stroke-width="0.9"/>
<circle cx="574.5" cy="60.0" r="2.3" fill="#bdbdbd" stroke="#222" stroke-width="0.9"/>
<circle cx="577.9" cy="59.5" r="2.3" fill="#bdbdbd" stroke="#222" stroke-width="0.9"/>
<circle cx="581.2" cy="58.8" r="2.3" fill="#bdbdbd" stroke="#222" stroke-width="0.9"/>
<circle cx="584.6" cy="58.3" r="2.3" fill="#bdbdbd" stroke="#222" stroke-width="0.9"/>
<circle cx="588.0" cy="58.0" r="2.3" fill="#bdbdbd" stroke="#222" stroke-width="0.9"/>
<circle cx="591.4" cy="56.2" r="2.3" fill="#bdbdbd" stroke="#222" stroke-width="0.9"/>
<circle cx="594.8" cy="57.5" r="2.3" fill="#bdbdbd" stroke="#222" stroke-width="0.9"/>
<circle cx="598.1" cy="58.3" r="2.3" fill="#bdbdbd" stroke="#222" stroke-width="0.9"/>
<circle cx="601.5" cy="58.3" r="2.3" fill="#bdbdbd" stroke="#222" stroke-width="0.9"/>
<circle cx="604.9" cy="58.0" r="2.3" fill="#bdbdbd" stroke="#222" stroke-width="0.9"/>
<circle cx="608.2" cy="58.3" r="2.3" fill="#bdbdbd" stroke="#222" stroke-width="0.9"/>
<circle cx="611.6" cy="58.3" r="2.3" fill="#bdbdbd" stroke="#222" stroke-width="0.9"/>
<circle cx="615.0" cy="58.8" r="2.3" fill="#bdbdbd" stroke="#222" stroke-width="0.9"/>
<circle cx="618.4" cy="59.1" r="2.3" fill="#bdbdbd" stroke="#222" stroke-width="0.9"/>
<circle cx="621.8" cy="59.1" r="2.3" fill="#bdbdbd" stroke="#222" stroke-width="0.9"/>
<circle cx="625.1" cy="59.0" r="2.3" fill="#bdbdbd" stroke="#222" stroke-width="0.9"/>
<circle cx="628.5" cy="59.0" r="2.3" fill="#bdbdbd" stroke="#222" stroke-width="0.9"/>
<circle cx="631.9" cy="59.1" r="2.3" fill="#bdbdbd" stroke="#222" stroke-width="0.9"/>
<circle cx="635.2" cy="59.3" r="2.3" fill="#bdbdbd" stroke="#222" stroke-width="0.9"/>
<circle cx="638.6" cy="59.4" r="2.3" fill="#bdbdbd" stroke="#222" stroke-width="0.9"/>
<circle cx="642.0" cy="59.9" r="2.3" fill="#bdbdbd" stroke="#222" stroke-width="0.9"/>
<circle cx="645.4" cy="60.3" r="2.3" fill="#bdbdbd" stroke="#222" stroke-width="0.9"/>
<circle cx="648.8" cy="60.5" r="2.3" fill="#bdbdbd" stroke="#222" stroke-width="0.9"/>
<circle cx="652.1" cy="59.9" r="2.3" fill="#bdbdbd" stroke="#222" stroke-width="0.9"/>
<circle cx="655.5" cy="58.9" r="2.3" fill="#bdbdbd" stroke="#222" stroke-width="0.9"/>
<path d="M453.0,60.3 L456.4,190.0 L459.8,190.0 L463.1,190.0 L466.5,190.0 L469.9,187.3 L473.2,184.9 L476.6,182.3 L480.0,179.1 L483.4,176.5 L486.8,172.3 L490.1,167.5 L493.5,161.7 L496.9,156.0 L500.2,148.2 L503.6,140.9 L507.0,134.6 L510.4,127.4 L513.8,122.8 L517.1,119.6 L520.5,120.9 L523.9,119.0 L527.2,118.7 L530.6,115.1 L534.0,111.7 L537.4,107.2 L540.8,103.7 L544.1,100.5 L547.5,98.0 L550.9,96.8 L554.2,95.8 L557.6,95.0 L561.0,93.4 L564.4,92.2 L567.8,89.5 L571.1,88.7 L574.5,87.8 L577.9,87.8 L581.2,87.0 L584.6,86.1 L588.0,85.6 L591.4,85.2 L594.8,84.9 L598.1,84.4 L601.5,83.9 L604.9,83.6 L608.2,83.2 L611.6,82.8 L615.0,82.0 L618.4,81.2 L621.8,80.5 L625.1,80.0 L628.5,79.4 L631.9,78.7 L635.2,77.4 L638.6,75.5 L642.0,74.2 L645.4,74.3 L648.8,75.2 L652.1,77.0 L655.5,78.8" fill="none" stroke="#222" stroke-width="0.6"/>
<circle cx="453.0" cy="60.3" r="2.3" fill="#707070" stroke="#222" stroke-width="0.9"/>
<circle cx="456.4" cy="190.0" r="2.3" fill="#707070" stroke="#222" stroke-width="0.9"/>
<circle cx="459.8" cy="190.0" r="2.3" fill="#707070" stroke="#222" stroke-width="0.9"/>
<circle cx="463.1" cy="190.0" r="2.3" fill="#707070" stroke="#222" stroke-width="0.9"/>
<circle cx="466.5" cy="190.0" r="2.3" fill="#707070" stroke="#222" stroke-width="0.9"/>
<circle cx="469.9" cy="187.3" r="2.3" fill="#707070" stroke="#222" stroke-width="0.9"/>
<circle cx="473.2" cy="184.9" r="2.3" fill="#707070" stroke="#222" stroke-width="0.9"/>
<circle cx="476.6" cy="182.3" r="2.3" fill="#707070" stroke="#222" stroke-width="0.9"/>
<circle cx="480.0" cy="179.1" r="2.3" fill="#707070" stroke="#222" stroke-width="0.9"/>
<circle cx="483.4" cy="176.5" r="2.3" fill="#707070" stroke="#222" stroke-width="0.9"/>
<circle cx="486.8" cy="172.3" r="2.3" fill="#707070" stroke="#222" stroke-width="0.9"/>
<circle cx="490.1" cy="167.5" r="2.3" fill="#707070" stroke="#222" stroke-width="0.9"/>
<circle cx="493.5" cy="161.7" r="2.3" fill="#707070" stroke="#222" stroke-width="0.9"/>
<circle cx="496.9" cy="156.0" r="2.3" fill="#707070" stroke="#222" stroke-width="0.9"/>
<circle cx="500.2" cy="148.2" r="2.3" fill="#707070" stroke="#222" stroke-width="0.9"/>
<circle cx="503.6" cy="140.9" r="2.3" fill="#707070" stroke="#222" stroke-width="0.9"/>
<circle cx="507.0" cy="134.6" r="2.3" fill="#707070" stroke="#222" stroke-width="0.9"/>
<circle cx="510.4" cy="127.4" r="2.3" fill="#707070" stroke="#222" stroke-width="0.9"/>
<circle cx="513.8" cy="122.8" r="2.3" fill="#707070" stroke="#222" stroke-width="0.9"/>
<circle cx="517.1" cy="119.6" r="2.3" fill="#707070" stroke="#222" stroke-width="0.9"/>
<circle cx="520.5" cy="120.9" r="2.3" fill="#707070" stroke="#222" stroke-width="0.9"/>
<circle cx="523.9" cy="119.0" r="2.3" fill="#707070" stroke="#222" stroke-width="0.9"/>
<circle cx="527.2" cy="118.7" r="2.3" fill="#707070" stroke="#222" stroke-width="0.9"/>
<circle cx="530.6" cy="115.1" r="2.3" fill="#707070" stroke="#222" stroke-width="0.9"/>
<circle cx="534.0" cy="111.7" r="2.3" fill="#707070" stroke="#222" stroke-width="0.9"/>
<circle cx="537.4" cy="107.2" r="2.3" fill="#707070" stroke="#222" stroke-width="0.9"/>
<circle cx="540.8" cy="103.7" r="2.3" fill="#707070" stroke="#222" stroke-width="0.9"/>
<circle cx="544.1" cy="100.5" r="2.3" fill="#707070" stroke="#222" stroke-width="0.9"/>
<circle cx="547.5" cy="98.0" r="2.3" fill="#707070" stroke="#222" stroke-width="0.9"/>
<circle cx="550.9" cy="96.8" r="2.3" fill="#707070" stroke="#222" stroke-width="0.9"/>
<circle cx="554.2" cy="95.8" r="2.3" fill="#707070" stroke="#222" stroke-width="0.9"/>
<circle cx="557.6" cy="95.0" r="2.3" fill="#707070" stroke="#222" stroke-width="0.9"/>
<circle cx="561.0" cy="93.4" r="2.3" fill="#707070" stroke="#222" stroke-width="0.9"/>
<circle cx="564.4" cy="92.2" r="2.3" fill="#707070" stroke="#222" stroke-width="0.9"/>
<circle cx="567.8" cy="89.5" r="2.3" fill="#707070" stroke="#222" stroke-width="0.9"/>
<circle cx="571.1" cy="88.7" r="2.3" fill="#707070" stroke="#222" stroke-width="0.9"/>
<circle cx="574.5" cy="87.8" r="2.3" fill="#707070" stroke="#222" stroke-width="0.9"/>
<circle cx="577.9" cy="87.8" r="2.3" fill="#707070" stroke="#222" stroke-width="0.9"/>
<circle cx="581.2" cy="87.0" r="2.3" fill="#707070" stroke="#222" stroke-width="0.9"/>
<circle cx="584.6" cy="86.1" r="2.3" fill="#707070" stroke="#222" stroke-width="0.9"/>
<circle cx="588.0" cy="85.6" r="2.3" fill="#707070" stroke="#222" stroke-width="0.9"/>
<circle cx="591.4" cy="85.2" r="2.3" fill="#707070" stroke="#222" stroke-width="0.9"/>
<circle cx="594.8" cy="84.9" r="2.3" fill="#707070" stroke="#222" stroke-width="0.9"/>
<circle cx="598.1" cy="84.4" r="2.3" fill="#707070" stroke="#222" stroke-width="0.9"/>
<circle cx="601.5" cy="83.9" r="2.3" fill="#707070" stroke="#222" stroke-width="0.9"/>
<circle cx="604.9" cy="83.6" r="2.3" fill="#707070" stroke="#222" stroke-width="0.9"/>
<circle cx="608.2" cy="83.2" r="2.3" fill="#707070" stroke="#222" stroke-width="0.9"/>
<circle cx="611.6" cy="82.8" r="2.3" fill="#707070" stroke="#222" stroke-width="0.9"/>
<circle cx="615.0" cy="82.0" r="2.3" fill="#707070" stroke="#222" stroke-width="0.9"/>
<circle cx="618.4" cy="81.2" r="2.3" fill="#707070" stroke="#222" stroke-width="0.9"/>
<circle cx="621.8" cy="80.5" r="2.3" fill="#707070" stroke="#222" stroke-width="0.9"/>
<circle cx="625.1" cy="80.0" r="2.3" fill="#707070" stroke="#222" stroke-width="0.9"/>
<circle cx="628.5" cy="79.4" r="2.3" fill="#707070" stroke="#222" stroke-width="0.9"/>
<circle cx="631.9" cy="78.7" r="2.3" fill="#707070" stroke="#222" stroke-width="0.9"/>
<circle cx="635.2" cy="77.4" r="2.3" fill="#707070" stroke="#222" stroke-width="0.9"/>
<circle cx="638.6" cy="75.5" r="2.3" fill="#707070" stroke="#222" stroke-width="0.9"/>
<circle cx="642.0" cy="74.2" r="2.3" fill="#707070" stroke="#222" stroke-width="0.9"/>
<circle cx="645.4" cy="74.3" r="2.3" fill="#707070" stroke="#222" stroke-width="0.9"/>
<circle cx="648.8" cy="75.2" r="2.3" fill="#707070" stroke="#222" stroke-width="0.9"/>
<circle cx="652.1" cy="77.0" r="2.3" fill="#707070" stroke="#222" stroke-width="0.9"/>
<circle cx="655.5" cy="78.8" r="2.3" fill="#707070" stroke="#222" stroke-width="0.9"/>
<line x1="564.4" y1="133.5" x2="580.8" y2="133.5" stroke="#111" stroke-width="1"/>
<rect x="569.95" y="131.05" width="4.7" height="4.7" fill="#fff" stroke="#111" stroke-width="1"/>
<text x="583.3" y="136.3" class="l">WT F + M (13)</text>
<line x1="564.4" y1="148.5" x2="580.8" y2="148.5" stroke="#111" stroke-width="1"/>
<path d="M572.3,145.5 L574.8,150.4 L569.8,150.4 Z" fill="#ddd" stroke="#222" stroke-width="0.8"/>
<text x="583.3" y="151.3" class="l">Hom R192Q M (4)</text>
<line x1="564.4" y1="163.5" x2="580.8" y2="163.5" stroke="#111" stroke-width="1"/>
<circle cx="572.3" cy="163.4" r="2.3" fill="#bdbdbd" stroke="#222" stroke-width="0.9"/>
<text x="583.3" y="166.3" class="l">Hom R192Q F (5)</text>
<line x1="564.4" y1="178.5" x2="580.8" y2="178.5" stroke="#111" stroke-width="1"/>
<circle cx="572.3" cy="178.4" r="2.3" fill="#707070" stroke="#222" stroke-width="0.9"/>
<text x="583.3" y="181.3" class="l">Het S218L F (4)</text>
<text x="458.5" y="58" class="t">a</text>
<text x="461" y="183.5" class="t">b</text>
<text x="488.2" y="152.9" class="t">c</text>
<text x="503" y="114.7" class="t">d</text>
<text x="577.4" y="51.4" class="t">e</text>
<text x="553.7" y="223.8" text-anchor="middle" class="t2">Time after SD (min)</text>
<text transform="translate(421,112.2) rotate(-90)" text-anchor="middle" class="t2" style="font-size:10.6px">SSEP AUC (% of baseline)</text>
</svg>
</body></html>
